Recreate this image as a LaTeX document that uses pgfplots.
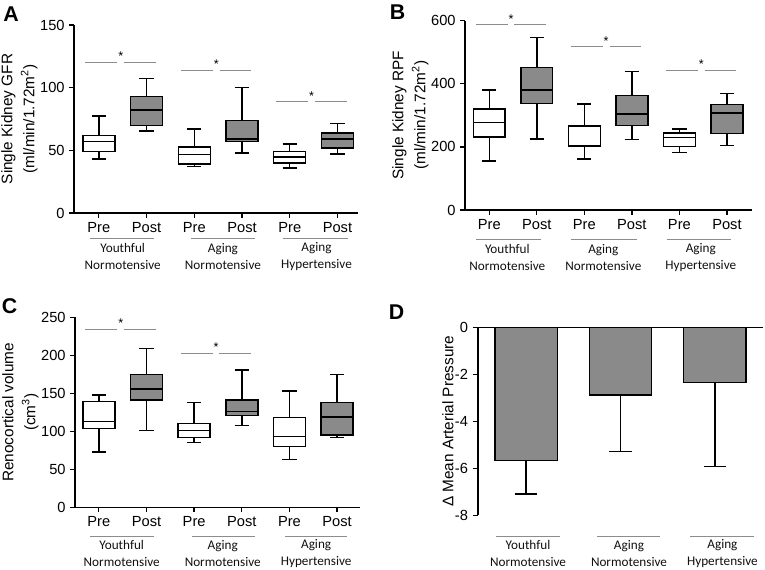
\documentclass[border=0pt]{standalone}
\usepackage{pgfplots}
\pgfplotsset{compat=1.18}
\usepackage{fontspec}
\setmainfont{Liberation Sans}
\newfontfamily\calibri{Carlito}
\definecolor{boxgray}{HTML}{8A8A8A}
\definecolor{linegray}{HTML}{8C8C8C}
\definecolor{txt}{HTML}{101010}

\tikzset{
  sigline/.style={draw=linegray, line width=0.7pt},
  grp/.style={font=\calibri\fontsize{9.9}{12.75}\selectfont, text=txt, align=center},
}
\pgfplotsset{
  panel/.style={
    scale only axis,
    axis x line*=bottom, axis y line*=left,
    axis line style={line width=1.2pt, black},
    every tick/.style={line width=1pt, black},
    tick align=outside,
    major tick length=4pt,
    clip=false,
    unbounded coords=jump,
    /pgf/number format/assume math mode=true,
    tick label style={font=\fontsize{11}{13}\selectfont},
    ylabel style={font=\fontsize{11.5}{16.5}\selectfont, align=center, at={([xshift=-41pt]axis description cs:0,0.5)}, anchor=center},
  },
  boxpanel/.style={
    panel,
    xtick={0,1,2,3,4,5},
    xticklabels={Pre,Post,Pre,Post,Pre,Post},
    major tick length=3.5pt,
  },
  wh/.style={draw=black, line width=1.1pt, mark=none, solid},
  pre/.style={draw=black, fill=white, line width=1.1pt, solid, mark=none},
  post/.style={draw=black, fill=boxgray, line width=1.1pt, solid, mark=none},
  sig/.style={draw=linegray, line width=0.7pt, mark=none, solid},
  stars/.style={draw=none, mark=none, nodes near coords={*},
    nodes near coords style={font=\fontsize{9.5}{9.5}\selectfont, anchor=base, yshift=1.2pt, inner sep=0pt, text=black}},
}

\begin{document}
\begin{tikzpicture}
\path[use as bounding box] (0,0) rectangle (573.75pt,427.5pt);

% Panel letters
\node[font=\bfseries\fontsize{16}{16}\selectfont] at (8.25pt,416.6pt) {A};
\node[font=\bfseries\fontsize{16}{16}\selectfont] at (298.1pt,418.1pt) {B};
\node[font=\bfseries\fontsize{16}{16}\selectfont] at (7.1pt,197.6pt) {C};
\node[font=\bfseries\fontsize{16}{16}\selectfont] at (297.4pt,193.5pt) {D};

% ---------------- Panel A ----------------
\begin{axis}[boxpanel, at={(55.5pt,267.75pt)}, anchor=south west,
  width=213pt, height=141pt,
  xmin=-0.52, xmax=5.43, ymin=0, ymax=150, ytick={0,50,100,150},
  ylabel={Single Kidney GFR\\(ml/min/1.72m\textsuperscript{2})}]
% box 0 (Pre): 43, 49, 57, 62, 77.5
\addplot[wh] coordinates {(-0.15,43) (0.15,43) (0,nan) (0,43) (0,77.5) (0,nan) (-0.15,77.5) (0.15,77.5)};
\addplot[pre] coordinates {(-0.335,49) (0.335,49) (0.335,62) (-0.335,62)} --cycle;
\addplot[wh] coordinates {(-0.335,57) (0.335,57)};
% box 1 (Post): 65.5, 70, 82, 93, 107.5
\addplot[wh] coordinates {(0.85,65.5) (1.15,65.5) (1,nan) (1,65.5) (1,107.5) (1,nan) (0.85,107.5) (1.15,107.5)};
\addplot[post] coordinates {(0.665,70) (1.335,70) (1.335,93) (0.665,93)} --cycle;
\addplot[wh] coordinates {(0.665,82) (1.335,82)};
% box 2: 37, 39, 46.5, 52.5, 67
\addplot[wh] coordinates {(1.85,37) (2.15,37) (2,nan) (2,37) (2,67) (2,nan) (1.85,67) (2.15,67)};
\addplot[pre] coordinates {(1.665,39) (2.335,39) (2.335,52.5) (1.665,52.5)} --cycle;
\addplot[wh] coordinates {(1.665,46.5) (2.335,46.5)};
% box 3: 48, 57, 59, 74, 100
\addplot[wh] coordinates {(2.85,48) (3.15,48) (3,nan) (3,48) (3,100) (3,nan) (2.85,100) (3.15,100)};
\addplot[post] coordinates {(2.665,57) (3.335,57) (3.335,74) (2.665,74)} --cycle;
\addplot[wh] coordinates {(2.665,59) (3.335,59)};
% box 4: 36, 40, 44.5, 49, 55
\addplot[wh] coordinates {(3.85,36) (4.15,36) (4,nan) (4,36) (4,55) (4,nan) (3.85,55) (4.15,55)};
\addplot[pre] coordinates {(3.665,40) (4.335,40) (4.335,49) (3.665,49)} --cycle;
\addplot[wh] coordinates {(3.665,44.5) (4.335,44.5)};
% box 5: 47, 52, 59, 64, 71.5
\addplot[wh] coordinates {(4.85,47) (5.15,47) (5,nan) (5,47) (5,71.5) (5,nan) (4.85,71.5) (5.15,71.5)};
\addplot[post] coordinates {(4.665,52) (5.335,52) (5.335,64) (4.665,64)} --cycle;
\addplot[wh] coordinates {(4.665,59) (5.335,59)};
% significance
\addplot[sig] coordinates {(-0.28,120) (0.39,120)};
\addplot[sig] coordinates {(0.53,120) (1.19,120)};
\addplot[sig] coordinates {(1.72,114) (2.39,114)};
\addplot[sig] coordinates {(2.53,114) (3.19,114)};
\addplot[sig] coordinates {(3.72,88.7) (4.39,88.7)};
\addplot[sig] coordinates {(4.53,88.7) (5.19,88.7)};
\addplot[stars] coordinates {(0.46,120) (2.46,114) (4.46,88.7)};
% group labels
\draw[sigline] ([yshift=-18.75pt]axis cs:-0.19,0) -- ([yshift=-18.75pt]axis cs:1.15,0);
\draw[sigline] ([yshift=-18.75pt]axis cs:1.94,0) -- ([yshift=-18.75pt]axis cs:3.27,0);
\draw[sigline] ([yshift=-18.75pt]axis cs:3.85,0) -- ([yshift=-18.75pt]axis cs:5.21,0);
\node[grp] at ([yshift=-32.6pt]axis cs:0.5,0) {Youthful\\Normotensive};
\node[grp] at ([yshift=-32.6pt]axis cs:2.6,0) {Aging\\Normotensive};
\node[grp] at ([yshift=-32.6pt]axis cs:4.56,0) {Aging\\Hypertensive};
\end{axis}

% ---------------- Panel B ----------------
\begin{axis}[boxpanel, at={(348.75pt,270pt)}, anchor=south west,
  width=215pt, height=142pt,
  xmin=-0.51, xmax=5.52, ymin=0, ymax=600, ytick={0,200,400,600},
  ylabel={Single Kidney RPF\\(ml/min/1.72m\textsuperscript{2})}]
% box 0: 155, 232, 277, 320, 380
\addplot[wh] coordinates {(-0.15,155) (0.15,155) (0,nan) (0,155) (0,380) (0,nan) (-0.15,380) (0.15,380)};
\addplot[pre] coordinates {(-0.335,232) (0.335,232) (0.335,320) (-0.335,320)} --cycle;
\addplot[wh] coordinates {(-0.335,277) (0.335,277)};
% box 1: 225, 337, 380, 451, 546
\addplot[wh] coordinates {(0.85,225) (1.15,225) (1,nan) (1,225) (1,546) (1,nan) (0.85,546) (1.15,546)};
\addplot[post] coordinates {(0.665,337) (1.335,337) (1.335,451) (0.665,451)} --cycle;
\addplot[wh] coordinates {(0.665,380) (1.335,380)};
% box 2: 162, 201, 204, 266, 336
\addplot[wh] coordinates {(1.85,162) (2.15,162) (2,nan) (2,162) (2,336) (2,nan) (1.85,336) (2.15,336)};
\addplot[pre] coordinates {(1.665,201) (2.335,201) (2.335,266) (1.665,266)} --cycle;
\addplot[wh] coordinates {(1.665,204) (2.335,204)};
% box 3: 223, 267, 304, 362, 439
\addplot[wh] coordinates {(2.85,223) (3.15,223) (3,nan) (3,223) (3,439) (3,nan) (2.85,439) (3.15,439)};
\addplot[post] coordinates {(2.665,267) (3.335,267) (3.335,362) (2.665,362)} --cycle;
\addplot[wh] coordinates {(2.665,304) (3.335,304)};
% box 4: 182, 202, 230, 244, 256
\addplot[wh] coordinates {(3.85,182) (4.15,182) (4,nan) (4,182) (4,256) (4,nan) (3.85,256) (4.15,256)};
\addplot[pre] coordinates {(3.665,202) (4.335,202) (4.335,244) (3.665,244)} --cycle;
\addplot[wh] coordinates {(3.665,230) (4.335,230)};
% box 5: 204, 242, 308, 334, 370
\addplot[wh] coordinates {(4.85,204) (5.15,204) (5,nan) (5,204) (5,370) (5,nan) (4.85,370) (5.15,370)};
\addplot[post] coordinates {(4.665,242) (5.335,242) (5.335,334) (4.665,334)} --cycle;
\addplot[wh] coordinates {(4.665,308) (5.335,308)};
\addplot[sig] coordinates {(-0.28,587) (0.39,587)};
\addplot[sig] coordinates {(0.53,587) (1.19,587)};
\addplot[sig] coordinates {(1.72,517) (2.39,517)};
\addplot[sig] coordinates {(2.53,517) (3.19,517)};
\addplot[sig] coordinates {(3.72,443) (4.39,443)};
\addplot[sig] coordinates {(4.53,443) (5.19,443)};
\addplot[stars] coordinates {(0.46,587) (2.46,517) (4.46,443)};
\draw[sigline] ([yshift=-21.75pt]axis cs:-0.27,0) -- ([yshift=-21.75pt]axis cs:1.09,0);
\draw[sigline] ([yshift=-21.75pt]axis cs:1.73,0) -- ([yshift=-21.75pt]axis cs:3.10,0);
\draw[sigline] ([yshift=-21.75pt]axis cs:3.73,0) -- ([yshift=-21.75pt]axis cs:5.09,0);
\node[grp] at ([yshift=-35.6pt]axis cs:0.38,0) {Youthful\\Normotensive};
\node[grp] at ([yshift=-35.6pt]axis cs:2.40,0) {Aging\\Normotensive};
\node[grp] at ([yshift=-35.6pt]axis cs:4.45,0) {Aging\\Hypertensive};
\end{axis}

% ---------------- Panel C ----------------
\begin{axis}[boxpanel, at={(56.25pt,47pt)}, anchor=south west,
  width=213.75pt, height=142.5pt,
  xmin=-0.5, xmax=5.48, ymin=0, ymax=250, ytick={0,50,100,150,200,250},
  ylabel={Renocortical volume\\(cm\textsuperscript{3})}]
% box 0: 73, 104, 113, 139, 148
\addplot[wh] coordinates {(-0.15,73) (0.15,73) (0,nan) (0,73) (0,148) (0,nan) (-0.15,148) (0.15,148)};
\addplot[pre] coordinates {(-0.335,104) (0.335,104) (0.335,139) (-0.335,139)} --cycle;
\addplot[wh] coordinates {(-0.335,113) (0.335,113)};
% box 1: 101, 141, 156, 175, 209
\addplot[wh] coordinates {(0.85,101) (1.15,101) (1,nan) (1,101) (1,209) (1,nan) (0.85,209) (1.15,209)};
\addplot[post] coordinates {(0.665,141) (1.335,141) (1.335,175) (0.665,175)} --cycle;
\addplot[wh] coordinates {(0.665,156) (1.335,156)};
% box 2: 85, 92, 101, 110, 138
\addplot[wh] coordinates {(1.85,85) (2.15,85) (2,nan) (2,85) (2,138) (2,nan) (1.85,138) (2.15,138)};
\addplot[pre] coordinates {(1.665,92) (2.335,92) (2.335,110) (1.665,110)} --cycle;
\addplot[wh] coordinates {(1.665,101) (2.335,101)};
% box 3: 108, 121, 126, 141, 181
\addplot[wh] coordinates {(2.85,108) (3.15,108) (3,nan) (3,108) (3,181) (3,nan) (2.85,181) (3.15,181)};
\addplot[post] coordinates {(2.665,121) (3.335,121) (3.335,141) (2.665,141)} --cycle;
\addplot[wh] coordinates {(2.665,126) (3.335,126)};
% box 4: 63, 80, 93, 118, 153
\addplot[wh] coordinates {(3.85,63) (4.15,63) (4,nan) (4,63) (4,153) (4,nan) (3.85,153) (4.15,153)};
\addplot[pre] coordinates {(3.665,80) (4.335,80) (4.335,118) (3.665,118)} --cycle;
\addplot[wh] coordinates {(3.665,93) (4.335,93)};
% box 5: 92, 95, 119, 138, 175
\addplot[wh] coordinates {(4.85,92) (5.15,92) (5,nan) (5,92) (5,175) (5,nan) (4.85,175) (5.15,175)};
\addplot[post] coordinates {(4.665,95) (5.335,95) (5.335,138) (4.665,138)} --cycle;
\addplot[wh] coordinates {(4.665,119) (5.335,119)};
\addplot[sig] coordinates {(-0.28,234) (0.39,234)};
\addplot[sig] coordinates {(0.53,234) (1.19,234)};
\addplot[sig] coordinates {(1.72,203) (2.39,203)};
\addplot[sig] coordinates {(2.53,203) (3.19,203)};
\addplot[stars] coordinates {(0.46,234) (2.46,203)};
\draw[sigline] ([yshift=-21.5pt]axis cs:-0.19,0) -- ([yshift=-21.5pt]axis cs:1.15,0);
\draw[sigline] ([yshift=-21.5pt]axis cs:1.96,0) -- ([yshift=-21.5pt]axis cs:3.27,0);
\draw[sigline] ([yshift=-21.5pt]axis cs:3.9,0) -- ([yshift=-21.5pt]axis cs:5.2,0);
\node[grp] at ([yshift=-34.5pt]axis cs:0.48,0) {Youthful\\Normotensive};
\node[grp] at ([yshift=-34.5pt]axis cs:2.6,0) {Aging\\Normotensive};
\node[grp] at ([yshift=-34.5pt]axis cs:4.56,0) {Aging\\Hypertensive};
\end{axis}

% ---------------- Panel D ----------------
\begin{axis}[panel, at={(358.5pt,41pt)}, anchor=south west,
  width=213.75pt, height=141pt,
  axis x line*=top,
  xmin=-0.51, xmax=2.51, ymin=-8, ymax=0, ytick={-8,-6,-4,-2,0}, xtick=\empty,
  ylabel style={at={([xshift=-22.5pt]axis description cs:0,0.5)}},
  ylabel={Δ Mean Arterial Pressure}]
\addplot[ybar, bar width=0.66, fill=boxgray, draw=black, line width=1.1pt,
  error bars/.cd, y dir=minus, y explicit,
  error mark=|,
  error bar style={line width=1.1pt, black},
  error mark options={black, line width=1.1pt, mark size=8.5pt}]
  coordinates {(0,-5.66) +- (0,1.43) (1,-2.88) +- (0,2.41) (2,-2.34) +- (0,3.59)};
\draw[sigline] ([yshift=-15.75pt]axis cs:-0.32,-8) -- ([yshift=-15.75pt]axis cs:0.36,-8);
\draw[sigline] ([yshift=-15.75pt]axis cs:0.75,-8) -- ([yshift=-15.75pt]axis cs:1.42,-8);
\draw[sigline] ([yshift=-15.75pt]axis cs:1.74,-8) -- ([yshift=-15.75pt]axis cs:2.41,-8);
\node[grp] at ([yshift=-28.5pt]axis cs:0.02,-8) {Youthful\\Normotensive};
\node[grp] at ([yshift=-28.5pt]axis cs:1.09,-8) {Aging\\Normotensive};
\node[grp] at ([yshift=-28.5pt]axis cs:2.08,-8) {Aging\\Hypertensive};
\end{axis}
\end{tikzpicture}
\end{document}
